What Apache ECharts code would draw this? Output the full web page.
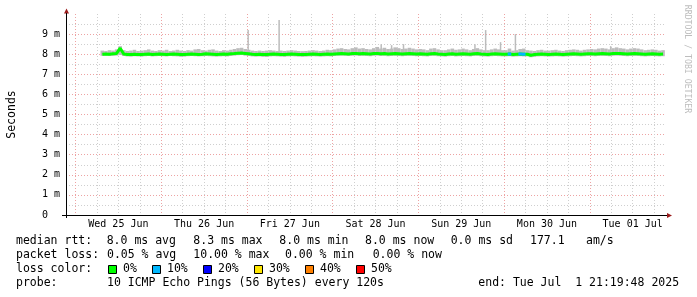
<!DOCTYPE html>
<html><head><meta charset="utf-8">
<script src="https://cdn.jsdelivr.net/npm/echarts@6/dist/echarts.min.js"></script>
<style>html,body{margin:0;padding:0;background:#fff}#c{width:697px;height:297px}</style>
</head><body><div id="c"></div>
<script>
// ---------- DATA ----------
const HOUR = 3600000;
const firstBin = '2025-06-25 07:00';   // hourly bins
const endTime = '2025-07-01 21:19:48';
const dayLabels = ['Wed 25 Jun','Thu 26 Jun','Fri 27 Jun','Sat 28 Jun','Sun 29 Jun','Mon 30 Jun','Tue 01 Jul'];
const dayDates = ['2025-06-25','2025-06-26','2025-06-27','2025-06-28','2025-06-29','2025-06-30','2025-07-01'];

// median rtt (ms), one value per hour
const median = [
8.00,8.01,8.00,8.02,8.04,8.30,8.01,7.99,7.98,8.00,7.99,7.98,8.00,8.01,7.99,8.00,8.01,
8.00,7.99,8.00,8.01,8.00,7.98,7.99,8.00,8.01,8.00,7.99,8.00,8.02,8.01,8.00,7.99,8.00,8.01,8.00,8.02,8.03,8.05,8.06,8.04,
8.02,8.00,7.99,8.00,7.98,7.99,8.00,8.01,8.00,7.99,7.98,8.00,8.01,8.00,7.99,7.98,7.99,8.00,8.01,8.00,7.99,8.00,8.01,8.00,
8.01,8.02,8.03,8.02,8.01,8.03,8.04,8.02,8.03,8.02,8.01,8.03,8.04,8.02,8.03,8.01,8.02,8.03,8.02,8.01,8.02,8.03,8.02,8.01,
8.02,8.01,8.00,8.02,8.03,8.01,8.00,7.99,8.01,8.02,8.00,8.01,8.02,8.01,8.00,8.02,8.03,8.01,8.00,7.99,8.01,8.02,8.01,8.00,
8.00,8.01,7.99,8.00,8.01,8.00,8.00,7.95,7.98,8.00,8.01,8.00,7.99,8.00,8.01,8.00,7.99,8.00,8.01,8.02,8.01,8.00,8.01,8.02,
8.02,8.01,8.02,8.03,8.02,8.01,8.03,8.04,8.03,8.02,8.01,8.02,8.03,8.02,8.01,8.00,8.01,8.02,8.01,8.00,8.01
];
// smoke band bottom / top (ms)
const smokeLow = [
7.92,7.93,7.91,7.92,7.93,7.96,7.91,7.89,7.88,7.90,7.89,7.88,7.90,7.91,7.89,7.90,7.91,
7.90,7.89,7.91,7.90,7.89,7.87,7.88,7.90,7.91,7.90,7.89,7.90,7.91,7.90,7.89,7.88,7.89,7.90,7.89,7.91,7.93,7.95,7.96,7.93,
7.91,7.89,7.88,7.89,7.87,7.86,7.89,7.90,7.89,7.88,7.87,7.89,7.90,7.89,7.88,7.87,7.88,7.89,7.90,7.89,7.88,7.89,7.90,7.89,
7.91,7.92,7.93,7.92,7.91,7.92,7.93,7.91,7.92,7.91,7.90,7.92,7.93,7.91,7.92,7.90,7.91,7.92,7.91,7.90,7.91,7.92,7.91,7.90,
7.91,7.90,7.89,7.91,7.92,7.90,7.89,7.88,7.90,7.91,7.89,7.90,7.91,7.90,7.89,7.91,7.92,7.90,7.89,7.88,7.90,7.91,7.90,7.89,
7.89,7.90,7.88,7.89,7.90,7.89,7.89,7.85,7.87,7.89,7.90,7.89,7.88,7.89,7.90,7.89,7.88,7.89,7.90,7.91,7.90,7.89,7.90,7.91,
7.91,7.90,7.91,7.92,7.91,7.90,7.92,7.93,7.92,7.91,7.90,7.91,7.92,7.91,7.90,7.89,7.90,7.91,7.90,7.89,7.90
];
const smokeHigh = [
8.18,8.16,8.20,8.18,8.24,8.40,8.20,8.16,8.18,8.22,8.16,8.18,8.20,8.24,8.18,8.16,8.20,
8.18,8.22,8.16,8.18,8.22,8.18,8.16,8.20,8.18,8.24,8.26,8.20,8.18,8.22,8.24,8.18,8.16,8.20,8.18,8.22,8.26,8.30,8.32,8.26,
8.22,8.18,8.16,8.18,8.16,8.18,8.20,8.18,8.16,8.18,8.16,8.18,8.20,8.18,8.16,8.15,8.16,8.18,8.20,8.18,8.16,8.18,8.22,8.20,
8.24,8.28,8.30,8.26,8.24,8.30,8.34,8.28,8.30,8.26,8.24,8.30,8.36,8.28,8.32,8.26,8.28,8.34,8.30,8.26,8.28,8.32,8.28,8.24,
8.26,8.24,8.20,8.28,8.30,8.24,8.20,8.20,8.24,8.28,8.22,8.24,8.28,8.24,8.20,8.26,8.30,8.24,8.20,8.20,8.24,8.28,8.24,8.20,
8.20,8.28,8.18,8.20,8.26,8.28,8.20,8.18,8.16,8.20,8.22,8.18,8.18,8.20,8.22,8.18,8.16,8.20,8.22,8.24,8.22,8.18,8.22,8.24,
8.26,8.24,8.28,8.30,8.28,8.24,8.30,8.34,8.30,8.28,8.24,8.28,8.30,8.28,8.24,8.20,8.22,8.24,8.22,8.18,8.20
];
// single-ping outliers (time, ms)
const peakTimes = ['2025-06-27 00:20','2025-06-27 09:00','2025-06-28 13:35','2025-06-28 16:30','2025-06-28 19:50',
                   '2025-06-29 15:50','2025-06-29 18:50','2025-06-29 23:00','2025-06-30 03:10','2025-07-01 05:50'];
const peakValues = [9.2, 9.7, 8.5, 8.45, 8.5, 8.5, 9.2, 8.6, 9.0, 8.4];
// hours with packet loss (time, %)
const lossTimes = ['2025-06-30 01:00','2025-06-30 04:00','2025-06-30 05:00'];
const lossValues = [10, 10, 10];
const lossLevels = [0, 10, 20, 30, 40, 50];
const lossColors = ['#00ff00','#00b8ff','#0000ff','#ffe600','#ff8000','#ff0000'];

const legendRow1 = [['median rtt:',16],['8.0 ms avg',106.7],['8.3 ms max',193.3],['8.0 ms min',279.3],['8.0 ms now',365],['0.0 ms sd',450.7],['177.1',530],['am/s',586]];
const legendRow2 = [['packet loss:',16],['0.05 % avg',107],['10.00 % max',193.3],['0.00 % min',285],['0.00 % now',372.7]];
const legendRow3Label = 'loss color:';
const lossBoxX = [108, 152, 203, 254, 305, 356];
const legendRow4 = [['probe:',16],['10 ICMP Echo Pings (56 Bytes) every 120s',107],['end: Tue Jul  1 21:19:48 2025',478.3]];

// ---------- HELPERS ----------
function ts(s){
  const [d,h='00:00:00'] = s.split(' ');
  const [Y,M,D] = d.split('-').map(Number);
  const p = h.split(':').map(Number);
  return Date.UTC(Y, M-1, D, p[0], p[1]||0, p[2]||0);
}
const T0 = ts(firstBin);
const END = ts(endTime);
const BEGIN = END - 7*24*HOUR;
const binIndex = t => Math.floor((t - T0)/HOUR);

const sixHours = [], midnights = [], noons = [];
dayDates.forEach(d => {
  const m = ts(d);
  midnights.push(m);
  for (let k=0;k<4;k++) if (m + k*6*HOUR < END) sixHours.push(m + k*6*HOUR);
  noons.push(m + 12*HOUR);
});

const smokeData = median.map((m,i)=>[T0 + i*HOUR, smokeLow[i], smokeHigh[i]]);
const medianData = median.map((m,i)=>[T0 + i*HOUR + HOUR/2, m]);
const peakData = peakTimes.map((s,i)=>{ const t = ts(s); return [t, peakValues[i], median[binIndex(t)]]; });
const lossData = lossTimes.map((s,i)=>{ const t = ts(s); return [t, median[binIndex(t)], lossValues[i]]; });

const MONO = 'DejaVu Sans Mono';
const GL = 66, GT = 14, GW = 600, GH = 201;
const SMOKE = '#bcbcbc';

const graphics = [];
function txt(s, x, y, opts={}){
  graphics.push({type:'text', x, y, silent:true, style:Object.assign({text:s, fill:'#000', font:'11.5px "'+MONO+'"', align:'left', verticalAlign:'middle'}, opts)});
}
legendRow1.forEach(([s,x])=>txt(s,x,241.5));
legendRow2.forEach(([s,x])=>txt(s,x,255.5));
txt(legendRow3Label,16,269.5);
lossLevels.forEach((lv,i)=>{
  graphics.push({type:'rect', shape:{x:lossBoxX[i]+0.5, y:265.5, width:8, height:8}, style:{fill:lossColors[i], stroke:'#000', lineWidth:1}, silent:true});
  txt(lv+'%', lossBoxX[i]+15, 269.5);
});
legendRow4.forEach(([s,x])=>txt(s,x,283.5));
// watermark
graphics.push({type:'text', x:687.5, y:59, rotation:-Math.PI/2, silent:true,
  style:{text:'RRDTOOL / TOBI OETIKER', fill:'#bdbdbd', font:'8.2px "'+MONO+'"', align:'center', verticalAlign:'middle'}});
// axis arrows and overhangs
graphics.push({type:'polygon', shape:{points:[[GL-2,GT-0.5],[GL+3,GT-0.5],[GL+0.5,GT-5.5]]}, style:{fill:'#9b1c1c'}, silent:true});
graphics.push({type:'polygon', shape:{points:[[GL+GW+1,GT+GH-2],[GL+GW+1,GT+GH+3],[GL+GW+6,GT+GH+0.5]]}, style:{fill:'#9b1c1c'}, silent:true});
graphics.push({type:'line', shape:{x1:GL-4, y1:GT+GH+0.5, x2:GL, y2:GT+GH+0.5}, style:{stroke:'#000', lineWidth:1}, silent:true});
graphics.push({type:'line', shape:{x1:GL+0.5, y1:GT+GH, x2:GL+0.5, y2:GT+GH+3}, style:{stroke:'#000', lineWidth:1}, silent:true});
graphics.push({type:'line', shape:{x1:GL+0.5, y1:GT-1, x2:GL+0.5, y2:GT+1}, style:{stroke:'#000', lineWidth:1}, silent:true});
graphics.push({type:'line', shape:{x1:GL+GW-1, y1:GT+GH+0.5, x2:GL+GW+1, y2:GT+GH+0.5}, style:{stroke:'#000', lineWidth:1}, silent:true});

const chart = echarts.init(document.getElementById('c'), null, {renderer:'canvas'});
chart.setOption({
  animation:false,
  backgroundColor:'#fff',
  grid:{left:GL, top:GT, width:GW, height:GH, containLabel:false, outerBoundsMode:'none'},
  xAxis:[
    {type:'value', min:BEGIN, max:END,
     axisLine:{show:true, onZero:false, lineStyle:{color:'#000', width:1}},
     axisTick:{show:false, customValues:sixHours},
     axisLabel:{customValues:noons, margin:4, color:'#000', fontFamily:MONO, fontSize:10,
       formatter:v=>{ const i = noons.indexOf(v); return i>=0 ? dayLabels[i] : ''; }},
     splitLine:{show:true, lineStyle:{color:'#cfcfcf', width:1, type:[1,2]}}},
    {type:'value', min:BEGIN, max:END, position:'bottom',
     axisLine:{show:false}, axisLabel:{show:false},
     axisTick:{show:false, customValues:midnights},
     splitLine:{show:true, lineStyle:{color:'#eda3a3', width:1, type:[1,2]}}}
  ],
  yAxis:{type:'value', min:0, max:10, interval:1,
    name:'Seconds', nameLocation:'middle', nameGap:48,
    nameTextStyle:{fontFamily:MONO, fontSize:11.5, color:'#000'},
    axisLine:{show:true, lineStyle:{color:'#000', width:1}},
    axisTick:{show:false},
    axisLabel:{margin:6, color:'#000', fontFamily:MONO, fontSize:10, showMaxLabel:false,
      formatter:v=> v===0 ? '0\u00a0\u00a0' : v+' m'},
    splitLine:{show:true, showMaxLine:false, showMinLine:false, lineStyle:{color:'#eda3a3', width:1, type:[1,2]}},
    minorTick:{show:false, splitNumber:2},
    minorSplitLine:{show:true, lineStyle:{color:'#cfcfcf', width:1, type:[1,2]}}
  },
  series:[
    {type:'custom', name:'outliers', xAxisIndex:0, data:peakData, z:2, silent:true,
     encode:{x:0, y:[1,2]},
     renderItem:(p, api)=>{
       const t = api.value(0);
       const a = api.coord([t, api.value(1)]), b = api.coord([t, api.value(2)]);
       return {type:'line', shape:{x1:a[0], y1:a[1], x2:b[0], y2:b[1]}, style:{stroke:SMOKE, lineWidth:1.5}};
     }},
    {type:'custom', name:'smoke', xAxisIndex:0, data:smokeData, z:3, silent:true,
     encode:{x:0, y:[1,2]},
     renderItem:(p, api)=>{
       const t = api.value(0);
       const a = api.coord([t, api.value(2)]), b = api.coord([t+HOUR, api.value(1)]);
       return {type:'rect', shape:{x:a[0], y:a[1], width:b[0]-a[0], height:b[1]-a[1]}, style:{fill:SMOKE}};
     }},
    {type:'line', name:'median', xAxisIndex:0, data:medianData, z:4, silent:true,
     showSymbol:false, lineStyle:{color:lossColors[0], width:3}, itemStyle:{color:lossColors[0]}},
    {type:'custom', name:'loss', xAxisIndex:0, data:lossData, z:5, silent:true,
     encode:{x:0, y:1},
     renderItem:(p, api)=>{
       const t = api.value(0), m = api.value(1), l = api.value(2);
       const a = api.coord([t, m]), b = api.coord([t+HOUR, m]);
       const c = lossColors[lossLevels.indexOf(l)];
       return {type:'line', shape:{x1:a[0], y1:a[1], x2:b[0], y2:b[1]}, style:{stroke:c, lineWidth:3}};
     }}
  ],
  graphic:graphics
});
</script></body></html>
